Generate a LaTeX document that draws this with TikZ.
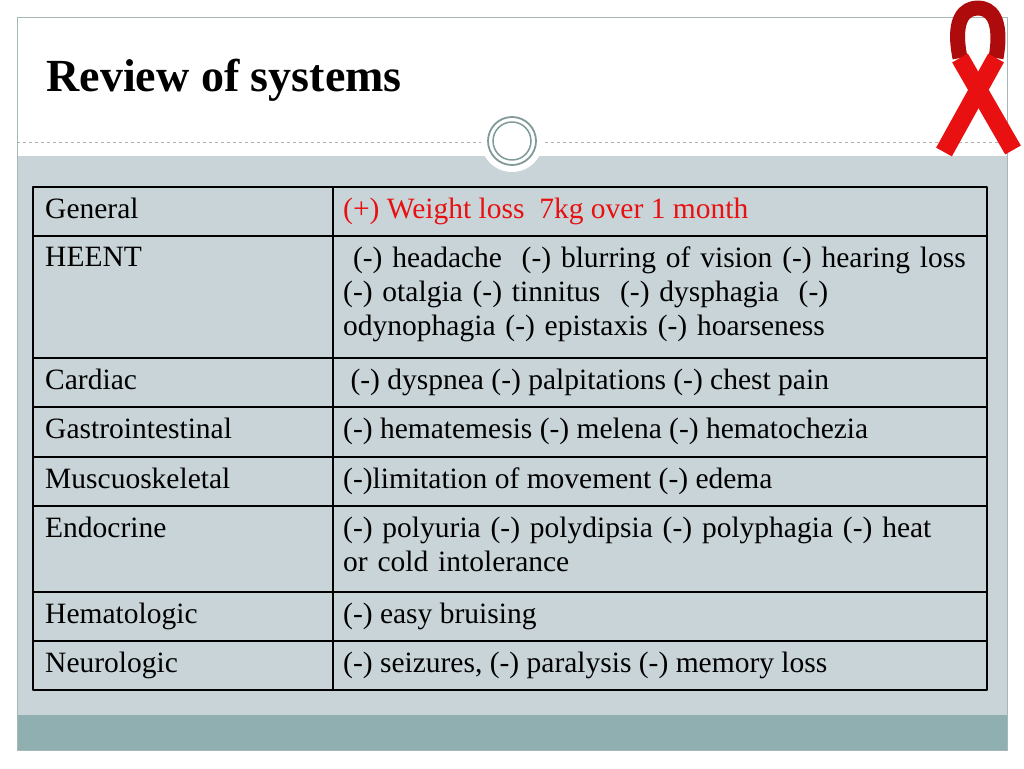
\documentclass[tikz,border=0pt]{standalone}
\usepackage{fontspec}
\setmainfont{Liberation Serif}
\usetikzlibrary{positioning}
\definecolor{panel}{HTML}{C8D4D8}
\definecolor{band}{HTML}{8FAFB0}
\definecolor{ring}{HTML}{7F9A98}
\definecolor{aidsred}{HTML}{E81010}
\begin{document}
\begin{tikzpicture}[x=1pt,y=-1pt,line join=round,
  cell/.style={anchor=north west,inner sep=0pt,align=left,font=\fontsize{29.5}{34}\selectfont},
  wide/.style={cell,text width=660pt}]
\useasboundingbox (0,0) rectangle (1024,768);
\fill[white] (0,0) rectangle (1024,768);
% frame and panels
\fill[panel] (17,156) rectangle (1007,715);
\fill[band] (17,715) rectangle (1007,750);
\draw[ring!70,line width=0.8pt] (17,17) rectangle (1007,750);
\draw[gray!60,dashed,line width=0.6pt] (17,142) -- (1007,142);
\node[anchor=west,font=\fontsize{46}{46}\selectfont\bfseries] (title) at (43,80) {Review of systems};
% ring
\fill[white] (512,141) circle (31);
\draw[ring,line width=1.8pt] (512,141) circle (24);
\draw[ring,line width=1.5pt] (512,141) circle (19);
% ribbon
\draw[aidsred!75!black,line width=15pt] (996,58) .. controls (1003,18) and (990,8) .. (978,8)
  .. controls (965,8) and (952,18) .. (960,58);
\draw[aidsred,line width=18pt] (960,58) -- (1013,150);
\draw[aidsred,line width=18pt] (996,58) -- (944,152);
% table
\fill[panel] (33,187) rectangle (987,690);
\draw[line width=1.2pt] (33,187) rectangle (987,690);
\draw[line width=1.2pt] (333,187) -- (333,690);
\foreach \y in {236,358,407,457,506,592,641}
  {\draw[line width=1.2pt] (33,\y) -- (987,\y);}
\foreach \name/\y/\txt in {gen/198/General,heent/247/HEENT,card/369/Cardiac,gi/418/Gastrointestinal,msk/468/Muscuoskeletal,endo/517/Endocrine,hem/603/Hematologic,neuro/652/Neurologic}
  {\node[cell] (\name) at (45,\y) {\txt};}
\node[cell,text=aidsred] (genv) at (343,198) {(+) Weight loss\ \ 7kg over 1 month};
\node[wide] (heentv) at (343,247) {\ (-) headache\ \ (-) blurring of vision (-) hearing loss\\(-) otalgia (-) tinnitus\ \ (-) dysphagia\ \ (-)\\odynophagia (-) epistaxis (-) hoarseness};
\node[cell] (cardv) at (343,369) {\ (-) dyspnea (-) palpitations (-) chest pain};
\node[cell] (giv) at (343,418) {(-) hematemesis (-) melena (-) hematochezia};
\node[cell] (mskv) at (343,468) {(-)limitation of movement (-) edema};
\node[wide] (endov) at (343,517) {(-) polyuria (-) polydipsia (-) polyphagia (-) heat\\or cold intolerance};
\node[cell] (hemv) at (343,603) {(-) easy bruising};
\node[cell] (neurov) at (343,652) {(-) seizures, (-) paralysis (-) memory loss};
\end{tikzpicture}
\end{document}
